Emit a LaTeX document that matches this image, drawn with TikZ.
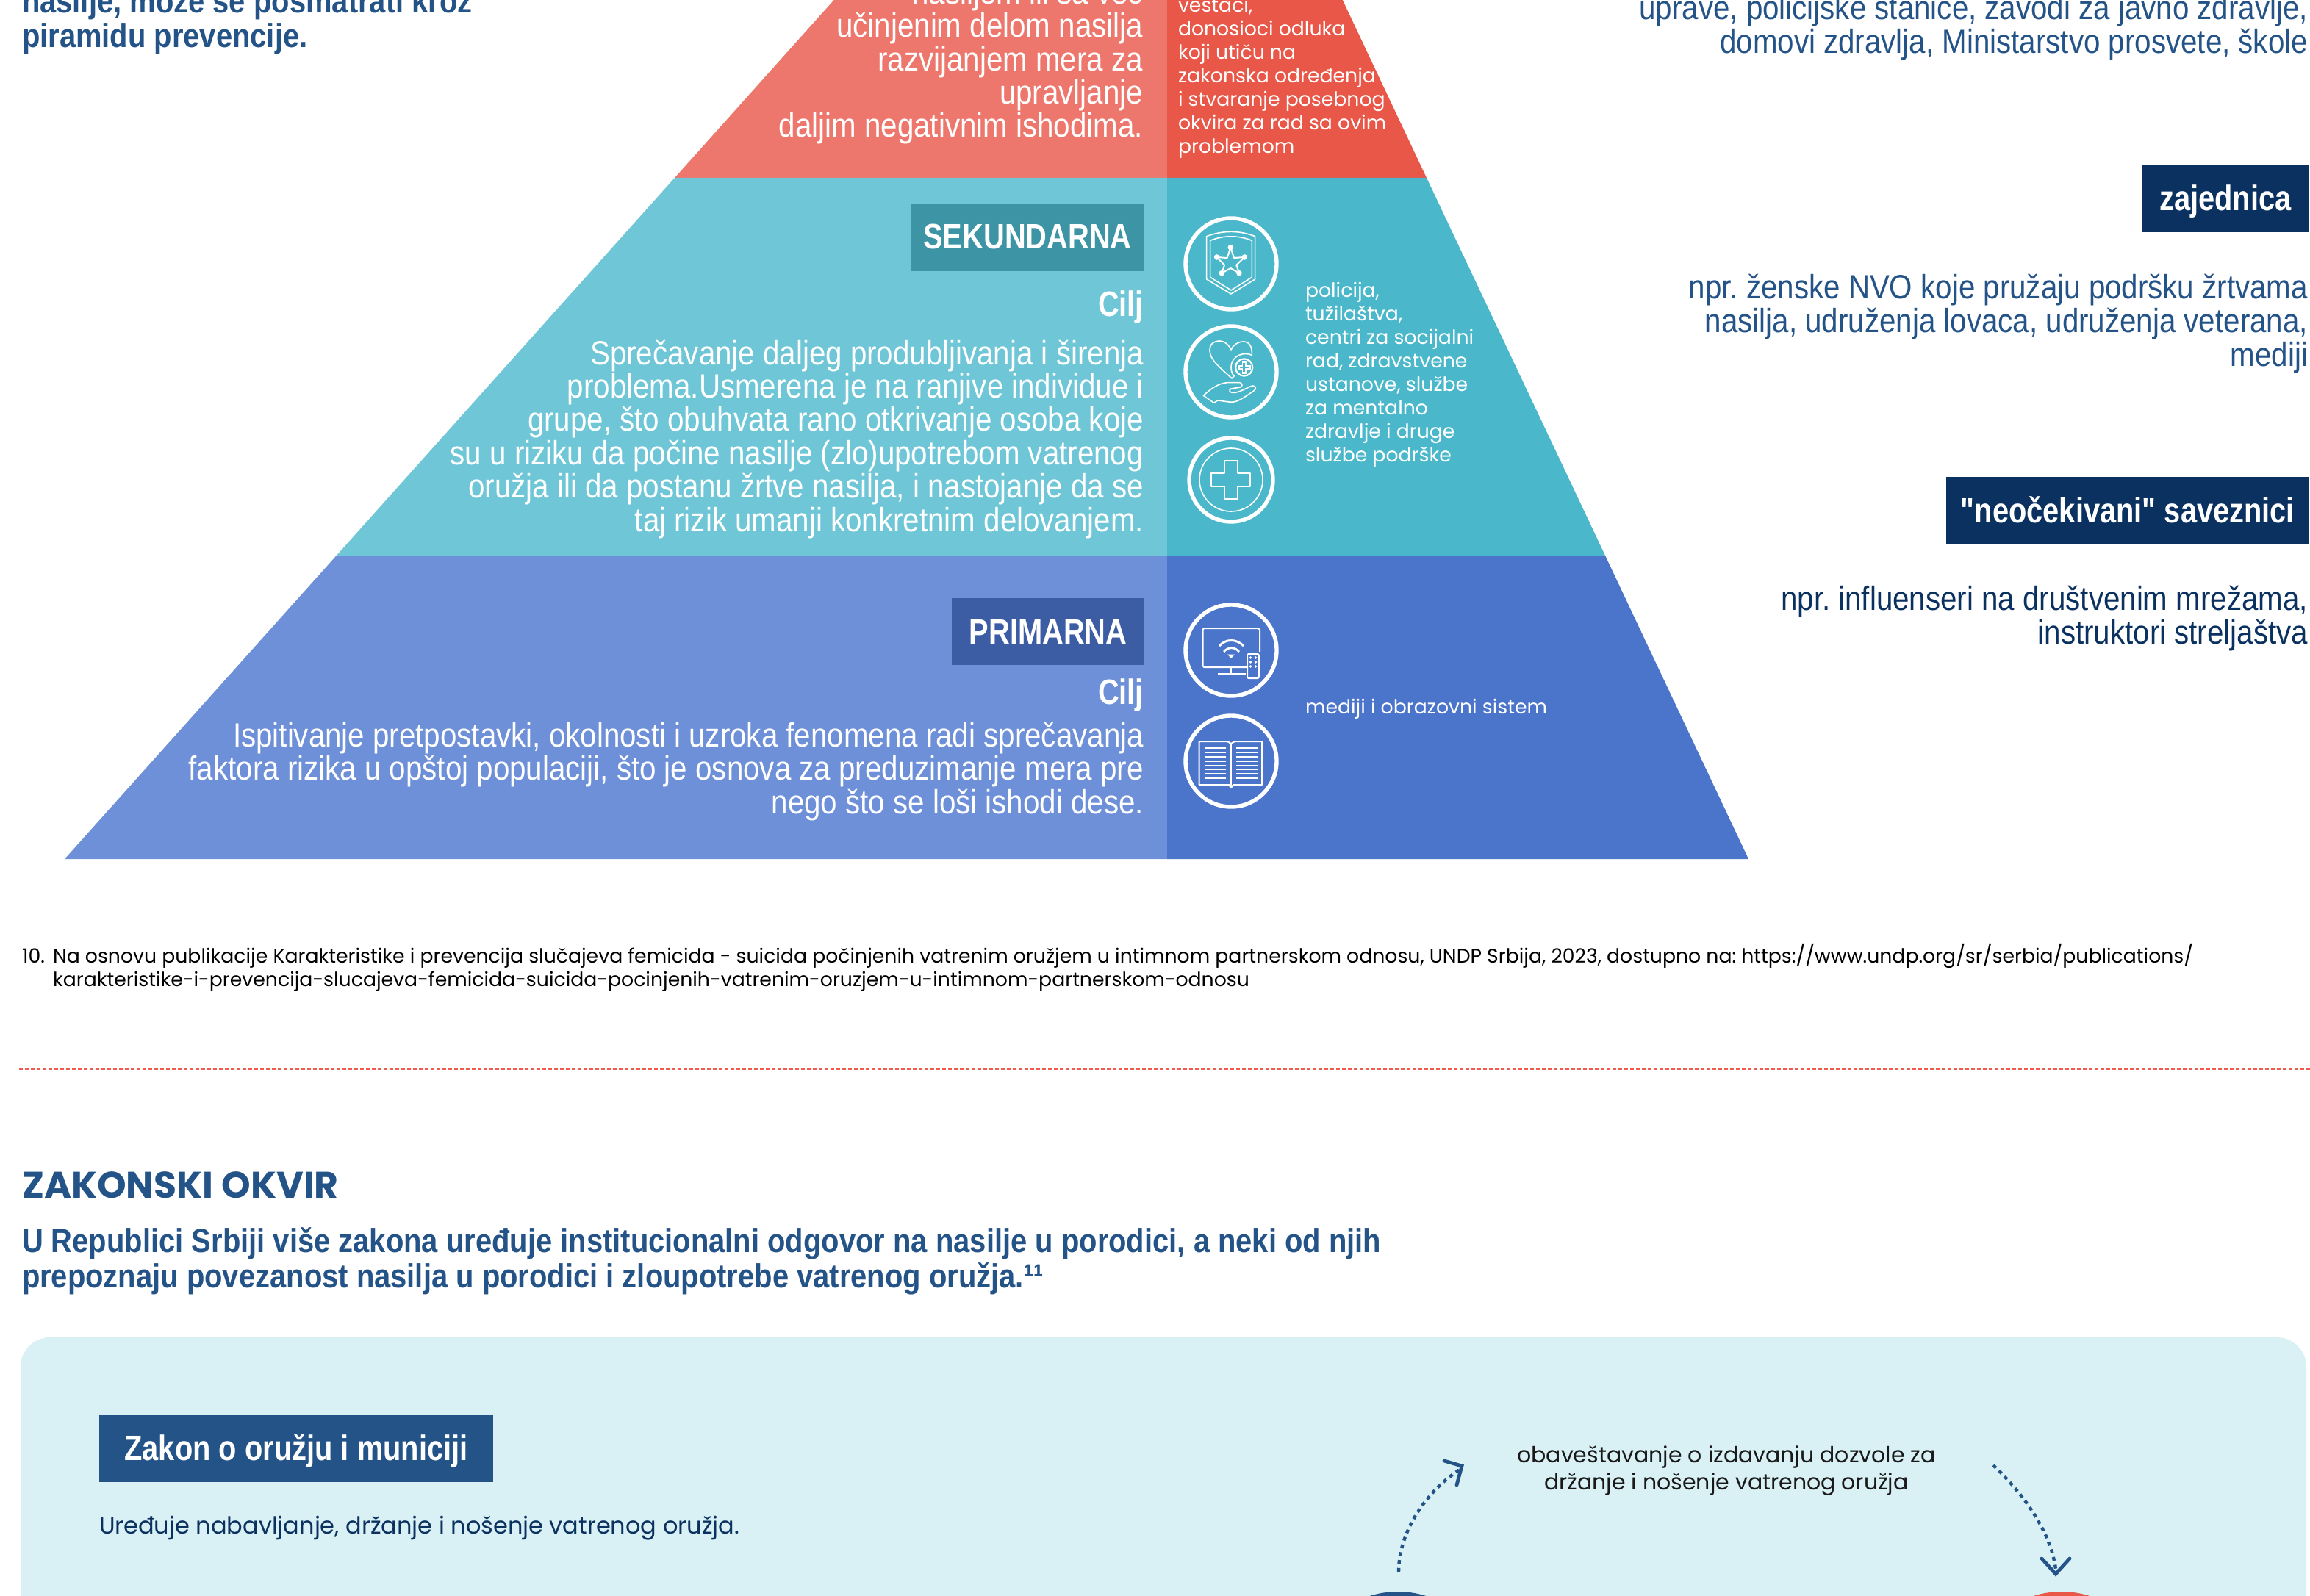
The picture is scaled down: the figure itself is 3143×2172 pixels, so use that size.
\documentclass[tikz,border=0pt]{standalone}
\usepackage{fontspec}
\setmainfont{Poppins}
\newfontfamily\popp{Poppins}
\newfontfamily\cond[FakeStretch=0.88]{Liberation Sans}
\newfontfamily\condb[FakeStretch=0.83]{Liberation Sans}
\definecolor{redL}{HTML}{ED776D}
\definecolor{redD}{HTML}{E85748}
\definecolor{tealL}{HTML}{6EC6D7}
\definecolor{tealD}{HTML}{4AB8CA}
\definecolor{tealB}{HTML}{3C94A5}
\definecolor{blueL}{HTML}{6E90D8}
\definecolor{blueD}{HTML}{4B74CB}
\definecolor{blueB}{HTML}{3C5DA3}
\definecolor{navy}{HTML}{0A315F}
\definecolor{midblue}{HTML}{245388}
\definecolor{panel}{HTML}{D9F1F4}
\definecolor{dashred}{HTML}{EF5B4F}
\tikzset{
  every node/.style={inner sep=0pt,outer sep=0pt},
  bodyR/.style={anchor=base east,align=right,text=white,font=\frenchspacing\cond\fontsize{22.9}{22.7}\selectfont},
  ciljR/.style={anchor=base east,text=white,font=\condb\bfseries\fontsize{24}{26}\selectfont},
  badgeT/.style={anchor=base,text=white,font=\condb\bfseries\fontsize{24}{26}\selectfont},
  sideR/.style={anchor=base east,align=right,font=\frenchspacing\cond\fontsize{22.9}{23}\selectfont},
  headL/.style={anchor=base west,align=left,text=midblue,font=\frenchspacing\cond\bfseries\fontsize{22.7}{23.9}\selectfont},
  popT/.style={anchor=base west,align=left,text=white,font=\frenchspacing\popp\fontsize{13.35}{16}\selectfont},
  ico/.style={draw=white,line width=2.7pt,fill=none},
  thin/.style={draw=white,line width=0.8pt,fill=none,line join=round},
  dotarrow/.style={draw=midblue,line width=2.2pt,dash pattern=on 2.6pt off 2.8pt},
  headarrow/.style={draw=midblue,line width=2.4pt,line cap=round,line join=miter},
}
\begin{document}
\begin{tikzpicture}[x=0.5pt,y=-0.5pt]
\path[use as bounding box] (0,0) rectangle (3143,2172);
\clip (0,0) rectangle (3143,2172);
\fill[white] (0,0) rectangle (3143,2172);
% pyramid
\fill[redL] (1134.7,0) -- (1588,0) -- (1588,242) -- (918,242) -- cycle;
\fill[redD] (1588,0) -- (1826.7,0) -- (1941,242) -- (1588,242) -- cycle;
\fill[tealL] (918,242) -- (1588,242) -- (1588,756) -- (457.8,756) -- cycle;
\fill[tealD] (1588,242) -- (1941,242) -- (2184,756) -- (1588,756) -- cycle;
\fill[blueL] (457.8,756) -- (1588,756) -- (1588,1169) -- (88,1169) -- cycle;
\fill[blueD] (1588,756) -- (2184,756) -- (2379,1169) -- (1588,1169) -- cycle;
% top-left text
\node[headL] (intro) at (30,65) {nasilje, može se posmatrati kroz\\piramidu prevencije.};
% red tier
\node[bodyR] (redtxt) at (1555,187) {nasiljem ili sa već\\učinjenim delom nasilja\\razvijanjem mera za\\upravljanje\\daljim negativnim ishodima.};
\node[popT] (redcol) at (1603,209) {veštaci,\\donosioci odluka\\koji utiču na\\zakonska određenja\\i stvaranje posebnog\\okvira za rad sa ovim\\problemom};
% teal tier
\node[fill=tealB,minimum width=159pt,minimum height=45.5pt,anchor=north west] (sekbox) at (1239,278) {};
\node[badgeT] (sek) at (1398,339) {SEKUNDARNA};
\node[ciljR] (cilj1) at (1556,430) {Cilj};
\node[bodyR] (sektxt) at (1556,723) {Sprečavanje daljeg produbljivanja i širenja\\problema.Usmerena je na ranjive individue i\hspace{6pt}\\grupe, što obuhvata rano otkrivanje osoba koje\hspace{6pt}\\su u riziku da počine nasilje (zlo)upotrebom vatrenog\\oružja ili da postanu žrtve nasilja, i nastojanje da se\\taj rizik umanji konkretnim delovanjem.};
\node[popT] (tealcol) at (1776,628) {policija,\\tužilaštva,\\centri za socijalni\\rad, zdravstvene\\ustanove, službe\\za mentalno\\zdravlje i druge\\službe podrške};
% blue tier
\node[fill=blueB,minimum width=131pt,minimum height=45.5pt,anchor=north west] (primbox) at (1295,814) {};
\node[badgeT] (prim) at (1426,876) {PRIMARNA};
\node[ciljR] (cilj2) at (1556,958) {Cilj};
\node[bodyR] (primtxt) at (1556,1107) {Ispitivanje pretpostavki, okolnosti i uzroka fenomena radi sprečavanja\\faktora rizika u opštoj populaciji, što je osnova za preduzimanje mera pre\\nego što se loši ishodi dese.};
\node[popT] (bluecol) at (1776,971) {mediji i obrazovni sistem};
% right column
\node[sideR,text=midblue] (side1) at (3140,73) {uprave, policijske stanice, zavodi za javno zdravlje,\\domovi zdravlja, Ministarstvo prosvete, škole};
\node[fill=navy,minimum width=113.5pt,minimum height=45.5pt,anchor=north west] (zajbox) at (2915,225) {};
\node[badgeT] (zaj) at (3028,287) {zajednica};
\node[sideR,text=midblue] (side2) at (3140,498) {npr. ženske NVO koje pružaju podršku žrtvama\\nasilja, udruženja lovaca, udruženja veterana,\\mediji};
\node[fill=navy,minimum width=247pt,minimum height=45.5pt,anchor=north west] (neobox) at (2648,649) {};
\node[badgeT] (neo) at (2895,711) {"neočekivani" saveznici};
\node[sideR,text=navy] (side3) at (3140,876) {npr. influenseri na društvenim mrežama,\\instruktori streljaštva};
% icons: circles
\node[ico,circle,minimum size=62pt] (c1) at (1675,359) {};
\node[ico,circle,minimum size=62pt] (c2) at (1675,506) {};
\node[ico,circle,minimum size=57pt] (c3) at (1675,653) {};
\node[thin,circle,minimum size=43pt] (c3in) at (1675,653) {};
\node[ico,circle,minimum size=62pt] (c4) at (1675,885) {};
\node[ico,circle,minimum size=62pt] (c5) at (1675,1036) {};
\begin{scope}[shift={(1560,270)},x=0.5pt/3,y=-0.5pt/3]
 % shield
 \draw[thin] (245,155) .. controls (310,130) and (380,130) .. (443,155) -- (443,330) -- (345,390) -- (245,330) -- cycle;
 \draw[thin] (260,172) .. controls (315,150) and (375,150) .. (430,172) -- (430,322) -- (345,375) -- (260,322) -- cycle;
 \draw[thin,line width=1pt] (343,200) -- (357,243) -- (400,240) -- (367,272) -- (378,305) -- (343,285) -- (307,305) -- (318,272) -- (287,240) -- (329,243) -- cycle;
 \foreach \p in {(343,200),(400,240),(378,305),(307,305),(287,240)} \fill[white] \p circle[radius=1.9pt];
 % heart
 \draw[thin] (348,735) .. controls (300,690) and (258,660) .. (258,620) .. controls (258,590) and (280,582) .. (298,582) .. controls (320,582) and (338,600) .. (345,618) .. controls (352,600) and (372,585) .. (395,585) .. controls (420,585) and (432,605) .. (430,640) .. controls (400,625) and (345,640) .. (345,690) .. controls (345,705) and (350,720) .. (358,725) -- cycle;
 \draw[white,line width=1.1pt] (398,690) circle[radius=5.8pt];
 \fill[white] (389,663) rectangle (407,717);
 \fill[white] (371,681) rectangle (425,699);
 \fill[tealD] (394,672) rectangle (402,708);
 \fill[tealD] (380,686) rectangle (416,694);
 % hand
 \draw[thin] (232,805) .. controls (260,780) and (290,755) .. (330,752) -- (380,752) .. controls (395,755) and (392,772) .. (378,772) -- (345,777) .. controls (335,782) and (335,795) .. (360,793) .. controls (385,790) and (410,772) .. (432,765) .. controls (448,765) and (450,778) .. (435,788) .. controls (400,810) and (375,832) .. (345,832) -- (290,825) -- (275,835) -- cycle;
 % cross
 \draw[thin,line width=1pt] (318,1070) -- (372,1070) -- (372,1122) -- (424,1122) -- (424,1176) -- (372,1176) -- (372,1226) -- (318,1226) -- (318,1176) -- (265,1176) -- (265,1122) -- (318,1122) -- cycle;
\end{scope}
% TV
\draw[thin,line width=1pt] (1714,887) -- (1714,857) -- (1712,855) -- (1638,855) -- (1636.5,857) -- (1636.5,906) -- (1638,908) -- (1696,908);
\draw[thin,line width=1pt] (1675,908) -- (1675,917);
\draw[thin,line width=1pt] (1657,917) -- (1695,917);
\draw[thin,line width=1pt,rounded corners=1pt] (1697,890) rectangle (1713,923);
\foreach \xx in {1701.5,1708.5} \foreach \yy in {895,901,907} \fill[white] (\xx,\yy) circle[radius=0.9pt];
\draw[white,line width=1.5pt] (1659,879) .. controls (1668,869) and (1682,869) .. (1692,879);
\draw[white,line width=1.4pt] (1665,887) .. controls (1671,880) and (1680,880) .. (1686,887);
\fill[white] (1675,896) -- (1670,890.5) -- (1680,890.5) -- cycle;
% book
\draw[thin,line width=1pt] (1631.5,1009) -- (1670,1009) -- (1675,1012) -- (1680,1009) -- (1717,1009) -- (1717,1068) -- (1678,1068) -- (1675,1072) -- (1672,1068) -- (1631.5,1068) -- cycle;
\draw[thin,line width=1pt] (1675,1012) -- (1675,1070);
\foreach \yy in {1018,1024,1030,1035.5,1041.5,1047,1053,1058.5} {
  \draw[white,line width=1pt] (1638.5,\yy) -- (1668,\yy);
  \draw[white,line width=1pt] (1682,\yy) -- (1711,\yy);
}
% footnote
\node[anchor=base west,text=black,font=\popp\fontsize{13.35}{16}\selectfont] (fnnum) at (30,1310) {10.};
\node[anchor=base west,align=left,text=black,font=\frenchspacing\popp\fontsize{13.35}{16}\selectfont] (fn) at (72,1342) {Na osnovu publikacije Karakteristike i prevencija slučajeva femicida - suicida počinjenih vatrenim oružjem u intimnom partnerskom odnosu, UNDP Srbija, 2023, dostupno na: https://www.undp.org/sr/serbia/publications/\\karakteristike-i-prevencija-slucajeva-femicida-suicida-pocinjenih-vatrenim-oruzjem-u-intimnom-partnerskom-odnosu};
% dashed rule
\coordinate (ruleA) at (26,1454);
\coordinate (ruleB) at (3143,1454);
\draw[dashred,line width=1.5pt,dash pattern=on 2.5pt off 1.5pt] (ruleA) -- (ruleB);
% law section
\node[anchor=base west,text=midblue,font=\popp\bfseries\fontsize{25.2}{28}\selectfont] (zakhead) at (30,1630) {ZAKONSKI OKVIR};
\node[headL] (zaktxt) at (30,1752) {U Republici Srbiji više zakona uređuje institucionalni odgovor na nasilje u porodici, a neki od njih\\prepoznaju povezanost nasilja u porodici i zloupotrebe vatrenog oružja.¹¹};
% panel
\fill[panel,rounded corners=20pt] (28,2300) -- (28,1820) -- (3138,1820) -- (3138,2300) -- cycle;
\node[fill=midblue,minimum width=268pt,minimum height=45.5pt,anchor=north west] (lawbox) at (135,1926) {};
\node[badgeT] (law) at (403,1987) {Zakon o oružju i municiji};
\node[anchor=base west,text=navy,font=\popp\fontsize{16}{18}\selectfont] (lawtxt) at (135,2087) {Uređuje nabavljanje, držanje i nošenje vatrenog oružja.};
\node[anchor=base,align=center,text=black!90,font=\popp\fontsize{15}{18.5}\selectfont] (notif) at (2349,2027) {obaveštavanje o izdavanju dozvole za\\držanje i nošenje vatrenog oružja};
% discs
\node[circle,fill=midblue,minimum size=125pt] (dl) at (1902,2291) {};
\node[circle,fill=redD,minimum size=125pt] (dr) at (2805,2291) {};
% arrows
\coordinate (aS) at (1903,2139);
\coordinate (aT) at (1986,2000);
\coordinate (a1) at (1965,1988);
\coordinate (aTip) at (1989,1995);
\coordinate (a2) at (1982,2021);
\draw[dotarrow] (aS) .. controls (1903,2085) and (1940,2030) .. (aT);
\draw[headarrow] (a1) -- (aTip) -- (a2);
\coordinate (bS) at (2712,1994);
\coordinate (bT) at (2797,2135);
\coordinate (b1) at (2778,2121);
\coordinate (bTip) at (2797,2142);
\coordinate (b2) at (2816,2121);
\draw[dotarrow] (bS) .. controls (2755,2035) and (2790,2085) .. (bT);
\draw[headarrow] (b1) -- (bTip) -- (b2);
\end{tikzpicture}
\end{document}
